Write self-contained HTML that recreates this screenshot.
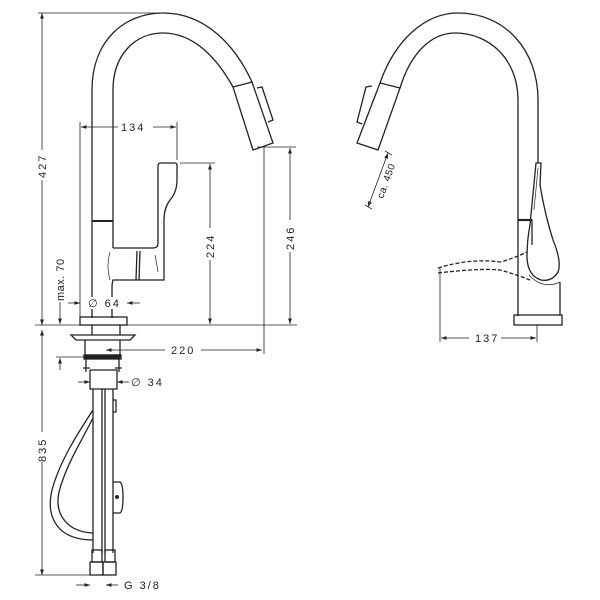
<!DOCTYPE html>
<html><head><meta charset="utf-8"><style>
html,body{margin:0;padding:0;background:#fff;}
svg{display:block}
text{font-family:"Liberation Sans",sans-serif;font-size:11px;fill:#222;letter-spacing:2px}
</style></head><body>
<svg width="600" height="600" viewBox="0 0 600 600" xmlns="http://www.w3.org/2000/svg">
<defs>
<marker id="a" viewBox="0 0 10 10" refX="10" refY="5" markerWidth="7" markerHeight="7" orient="auto-start-reverse"><path d="M0,1.5 L10,5 L0,8.5z" fill="#222"/></marker>
</defs>
<g fill="none" stroke="#222" stroke-width="1.3">
<!-- left faucet spout -->
<path d="M92,318 V90 C92,40 125,13 163,13 C205,13 235,45 252,82"/>
<path d="M113,248 V90 C113,55 135,33 163,33 C195,33 218,60 233,87"/>
<path d="M233,87 L252,82 L273,143 L253,150 Z"/>
<path d="M257,88 L262,87 L273,120 L268,122"/>
<path d="M92,221 H113" stroke-width="2"/>
<!-- lever and body -->
<path d="M113,248 H153 Q158,248 158,243 V166 Q158,163 161,163 H175 Q177,163 177,166 V180 Q177,192 170,200 Q164,208 164,220 V280 H113 Q112,283 112,288 V318"/>
<path d="M137,251 L136,280 M140,251 L139,280"/>
<path d="M110,252 Q106,265 110,280" stroke-width="0.7"/>
<path d="M155,255 Q157,265 158,272" stroke-width="0.7"/>
<!-- base -->
<rect x="80" y="317" width="47" height="8"/>
<!-- under deck -->
<path d="M92,325 V335 M120,325 V335"/>
<path d="M71,335 H135 L130,340 H76 Z"/>
<path d="M85,340 V355 H120 V340"/>
<rect x="84" y="355" width="37" height="4" fill="#222"/>
<path d="M86,359 V372 M119,359 V372 M83,368 H90 M115,368 H122"/>
<path d="M90,370 V389 H117 V370 H90"/>
<path d="M93,389 V553 M102,389 V553 M105,389 V553 M113,389 V553"/>
<path d="M113,400 H116 V412 H113 M113,482 H120 Q123,484 123,497 Q123,511 120,513 H113"/>
<circle cx="117" cy="497" r="1.3" fill="#222"/>
<path d="M93,410 C80,430 60,460 52,490 C45,520 60,540 93,540"/>
<path d="M93,418 C82,440 66,465 59,492 C54,515 68,532 93,533"/>
<rect x="92" y="550" width="10" height="12"/><rect x="105" y="550" width="10" height="12"/>
<rect x="90" y="562" width="13" height="13"/><rect x="103" y="562" width="13" height="13"/>
</g>
<!-- dimensions left -->
<g fill="none" stroke="#222" stroke-width="0.8">
<path d="M38,13 H163 M35,325 H297 M35,575 H95 M80,122 V318 M177,122 V160 M180,163 H215 M257,147 H296 M264,147 V354 M56,357 H90"/>
<path d="M42,13 V325" marker-start="url(#a)" marker-end="url(#a)"/>
<path d="M42,330 V575" marker-start="url(#a)"  marker-end="url(#a)"/>
<path d="M81,127 H176" marker-start="url(#a)" marker-end="url(#a)"/>
<path d="M210,164 V324" marker-start="url(#a)" marker-end="url(#a)"/>
<path d="M290,148 V324" marker-start="url(#a)" marker-end="url(#a)"/>
<path d="M60,300 V324" marker-end="url(#a)"/>
<path d="M60,370 V358" marker-end="url(#a)"/>
<path d="M68,303 H80" marker-end="url(#a)"/><path d="M140,303 H127" marker-end="url(#a)"/>
<path d="M106,350 H262" marker-start="url(#a)" marker-end="url(#a)"/>
<path d="M78,382 H90" marker-end="url(#a)"/><path d="M129,382 H117" marker-end="url(#a)"/>
<path d="M76,585 H90" marker-end="url(#a)"/><path d="M118,585 H106" marker-end="url(#a)"/>
<path d="M440,268 V342 M537,325 V342"/>
<path d="M441,338 H536" marker-start="url(#a)" marker-end="url(#a)"/>
<path d="M368,207 L388,153" marker-start="url(#a)" marker-end="url(#a)"/>
<path d="M365,205 L372,209 M385,151 L392,155"/>
</g>
<g fill="#fff" stroke="none">
<rect x="34" y="150" width="16" height="30"/><rect x="34" y="432" width="16" height="30"/>
<rect x="118" y="121" width="35" height="12"/><rect x="202" y="228" width="16" height="32"/>
<rect x="282" y="220" width="16" height="32"/><rect x="87" y="297" width="38" height="12"/>
<rect x="165" y="344" width="36" height="12"/><rect x="53" y="262" width="14" height="40"/>
<rect x="469" y="332" width="32" height="12"/>
</g>
<text x="121" y="131">134</text>
<text x="88" y="307">∅ 64</text>
<text x="171" y="354">220</text>
<text x="131" y="386">∅ 34</text>
<text x="124" y="589">G 3/8</text>
<text x="475" y="342">137</text>
<text transform="translate(46,178) rotate(-90)">427</text>
<text transform="translate(46,462) rotate(-90)">835</text>
<text transform="translate(214,258) rotate(-90)">224</text>
<text transform="translate(294,250) rotate(-90)">246</text>
<text transform="translate(64,301) rotate(-90)" style="letter-spacing:0.5px">max. 70</text>
<text transform="translate(383,199) rotate(-70)" style="letter-spacing:0.5px;font-size:10px">ca. 450</text>
<!-- right faucet -->
<g fill="none" stroke="#222" stroke-width="1.3">
<path d="M380,83 C395,40 425,13 458,13 C505,13 538,50 538,100 V163"/>
<path d="M400,88 C410,55 430,33 455,33 C490,33 518,60 518,100 V316"/>
<path d="M380,83 L400,88 L378,150 L357,143 Z"/>
<path d="M372,86 L366,87 L357,122 L362,124"/>
<path d="M518,220 H532 V245" />
<path d="M518,220 H532" stroke-width="2.2"/>
<path d="M536,163 H541 L540,185 Q545,215 553,240 Q562,262 558,272 Q552,282 541,280 Q528,276 527,258 Q527,240 530,225 Z"/>
<path d="M538,168 L534,210" stroke-width="0.7"/>
<path d="M529,275 Q543,290 560,282" stroke-width="0.7"/>
<path d="M560,282 V315"/>
<rect x="514" y="315" width="48" height="10"/>
<path d="M438,268 Q470,258 500,262 Q515,258 527,252 M438,273 Q480,268 500,270 Q515,274 530,280" stroke-dasharray="4,2"/>
</g>
</svg>
</body></html>
